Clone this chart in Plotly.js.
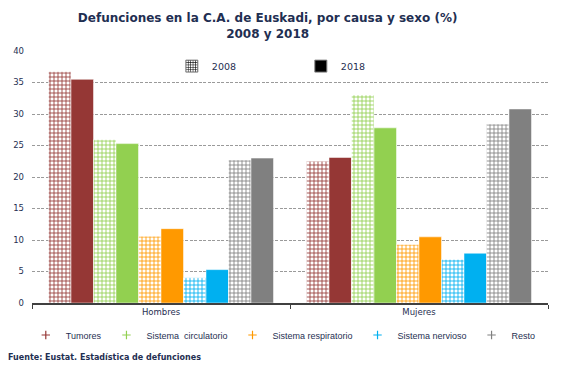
<!DOCTYPE html>
<html><head><meta charset="utf-8">
<script src="https://cdn.plot.ly/plotly-3.0.1.min.js"></script>
<style>html,body{margin:0;padding:0;background:#fff;}#chart{width:567px;height:372px;}</style>
</head><body><div id="chart"></div>
<script>
const categories = ['Hombres', 'Mujeres'];
const causes = ['Tumores', 'Sistema  circulatorio', 'Sistema respiratorio', 'Sistema nervioso', 'Resto'];
const colors = ['#953735', '#92d050', '#ff9900', '#00b0f0', '#808080'];
const years = ['2008', '2018'];
// values[cause] = [Hombres, Mujeres]
const values2008 = [
  [36.7, 22.5],
  [25.9, 33.0],
  [10.6, 9.3],
  [4.0, 6.9],
  [22.7, 28.4]
];
const values2018 = [
  [35.5, 23.1],
  [25.3, 27.8],
  [11.8, 10.5],
  [5.3, 7.9],
  [23.0, 30.8]
];
const yTicks = [0, 5, 10, 15, 20, 25, 30, 35, 40];

const textColor = '#1f2f52';
const traces = [];
causes.forEach((c, i) => {
  traces.push({
    type: 'bar', x: categories, y: values2008[i], name: c + ' ' + years[0],
    showlegend: false,
    marker: {color: colors[i], line: {color: '#ffffff', width: 0.5},
      pattern: {shape: '+', fgcolor: colors[i], bgcolor: '#ffffff', size: 4, solidity: 0.38, fillmode: 'replace'}},
    hoverinfo: 'y'
  });
  traces.push({
    type: 'bar', x: categories, y: values2018[i], name: c + ' ' + years[1],
    showlegend: false,
    marker: {color: colors[i], line: {color: '#ffffff', width: 0.5}},
    hoverinfo: 'y'
  });
});
// bottom legend entries (cause colours)
causes.forEach((c, i) => {
  traces.push({
    type: 'scatter', mode: 'markers', x: [categories[0]], y: [null], name: c,
    legend: 'legend', showlegend: true,
    marker: {symbol: 'cross-thin-open', size: 6, color: colors[i], line: {color: colors[i], width: 1.2}}
  });
});
// top legend entries (years) on hidden overlay axes so they don't take bar slots
traces.push({
  type: 'bar', x: [categories[0]], y: [null], name: years[0], xaxis: 'x2', yaxis: 'y2',
  legend: 'legend2', showlegend: true,
  marker: {color: '#000', line: {color: '#808080', width: 1},
    pattern: {shape: '+', fgcolor: '#000', bgcolor: '#ffffff', size: 3, solidity: 0.4, fillmode: 'replace'}}
});
traces.push({
  type: 'bar', x: [categories[0]], y: [null], name: years[1], xaxis: 'x2', yaxis: 'y2',
  legend: 'legend2', showlegend: true,
  marker: {color: '#000', line: {color: '#808080', width: 1}}
});

const layout = {
  width: 567, height: 372,
  paper_bgcolor: '#ffffff', plot_bgcolor: '#ffffff',
  margin: {l: 32, r: 19, t: 51, b: 69},
  font: {family: 'DejaVu Sans, Verdana, sans-serif', size: 9, color: textColor},
  title: {
    text: 'Defunciones en la C.A. de Euskadi, por causa y sexo (%)<br>2008 y 2018',
    font: {family: 'DejaVu Sans, Verdana, sans-serif', size: 12, color: textColor, weight: 'bold'},
    x: 0.472, xanchor: 'center', xref: 'container',
    y: 0.94, yanchor: 'middle', yref: 'container'
  },
  barmode: 'group', bargap: 0.128, bargroupgap: 0,
  xaxis: {
    type: 'category', showline: true, linecolor: '#404040', linewidth: 1.5,
    ticks: 'outside', tickson: 'boundaries', ticklen: 4, tickcolor: '#404040',
    showgrid: false, tickfont: {size: 8.5, color: textColor}, fixedrange: true
  },
  yaxis: {
    range: [0, 40], tickvals: yTicks, ticktext: yTicks.map(String),
    showline: false, zeroline: false, showgrid: true,
    gridcolor: '#9a9a9a', griddash: '3px,1.5px', gridwidth: 1,
    tickfont: {size: 8.5, color: textColor}, ticks: '', ticklabelstandoff: 7, fixedrange: true
  },
  xaxis2: {type: 'category', overlaying: 'x', visible: false, matches: 'x'},
  yaxis2: {overlaying: 'y', visible: false, range: [0, 40]},
  legend: {
    orientation: 'h', x: 0.487, xanchor: 'center', y: -0.127, yanchor: 'middle',
    font: {family: 'Liberation Sans, Arial, sans-serif', size: 9, color: textColor},
    itemwidth: 30, tracegroupgap: 0,
    bgcolor: 'rgba(0,0,0,0)'
  },
  legend2: {
    orientation: 'h', x: 0.271, xanchor: 'left', y: 0.94, yanchor: 'middle',
    font: {family: 'DejaVu Sans, Verdana, sans-serif', size: 9.5, color: textColor},
    itemwidth: 30, entrywidth: 84, entrywidthmode: 'pixels',
    bgcolor: 'rgba(0,0,0,0)'
  },
  annotations: [{
    text: '<b>Fuente: Eustat. Estadística de defunciones</b>',
    xref: 'paper', yref: 'paper', x: -0.0504, y: -0.218, xanchor: 'left', yanchor: 'middle',
    showarrow: false, font: {size: 8, color: textColor}
  }],
  showlegend: true
};
Plotly.newPlot('chart', traces, layout, {displayModeBar: false, staticPlot: true});
</script>
</body></html>
